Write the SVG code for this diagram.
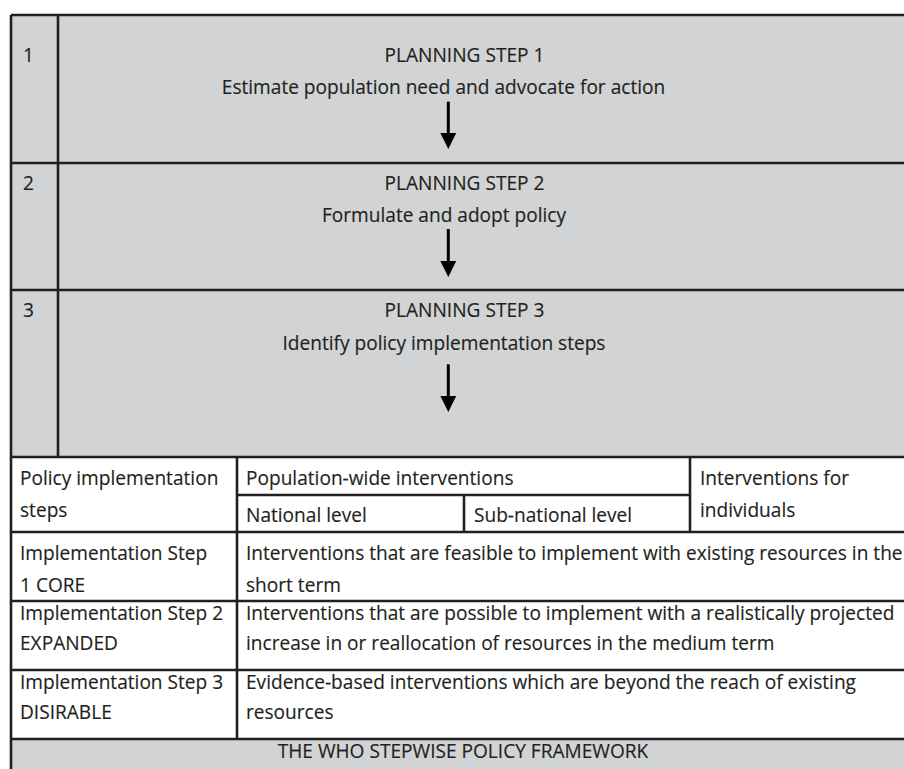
<svg xmlns="http://www.w3.org/2000/svg" width="904" height="769" viewBox="0 0 904 769">
<style>
.t{font-family:"Open Sans","Noto Sans",sans-serif;font-size:19.1px;fill:#231f20;stroke:#231f20;stroke-width:0.15}
.c{text-anchor:middle}
.g{fill:#d1d3d4}
.w{fill:#ffffff}
.ln{stroke:#231f20;stroke-width:2.6;fill:none}
.ar{stroke:#000;stroke-width:3;fill:none}
</style>
<defs>
<marker id="head" viewBox="0 0 16 16" refX="0" refY="8" markerWidth="16" markerHeight="16" markerUnits="userSpaceOnUse" orient="auto">
<path d="M0,0 L16,8 L0,16 z" fill="#000"/>
</marker>
</defs>
<rect x="0" y="0" width="904" height="769" fill="#ffffff"/>

<g id="planning-step-1">
<rect class="g" x="11" y="15" width="900" height="148"/>
<text class="t" x="23" y="62">1</text>
<text class="t c" x="464.5" y="62">PLANNING STEP 1</text>
<text class="t c" x="443.5" y="93.5">Estimate population need and advocate for action</text>
</g>
<g id="planning-step-2">
<rect class="g" x="11" y="163" width="900" height="127"/>
<text class="t" x="23" y="190">2</text>
<text class="t c" x="464.5" y="190">PLANNING STEP 2</text>
<text class="t c" x="444" y="222">Formulate and adopt policy</text>
</g>
<g id="planning-step-3">
<rect class="g" x="11" y="290" width="900" height="167"/>
<text class="t" x="23" y="317">3</text>
<text class="t c" x="464.5" y="317">PLANNING STEP 3</text>
<text class="t c" x="444" y="350">Identify policy implementation steps</text>
</g>

<g id="header">
<rect class="w" x="11" y="457" width="900" height="75"/>
<text class="t" x="20" y="485">Policy implementation</text>
<text class="t" x="20" y="516.7">steps</text>
<text class="t" x="246" y="485">Population-wide interventions</text>
<text class="t" x="246" y="521.7">National level</text>
<text class="t" x="474" y="521.7">Sub-national level</text>
<text class="t" x="700" y="485">Interventions for</text>
<text class="t" x="700" y="516.7">individuals</text>
</g>
<g id="impl-step-1">
<rect class="w" x="11" y="532" width="900" height="69"/>
<text class="t" x="20" y="559.5">Implementation Step</text>
<text class="t" x="20" y="591.7">1 CORE</text>
<text class="t" x="246" y="559.5">Interventions that are feasible to implement with existing resources in the</text>
<text class="t" x="246" y="591.7">short term</text>
</g>
<g id="impl-step-2">
<rect class="w" x="11" y="601" width="900" height="69"/>
<text class="t" x="20" y="619.5">Implementation Step 2</text>
<text class="t" x="20" y="650">EXPANDED</text>
<text class="t" x="246" y="619.5">Interventions that are possible to implement with a realistically projected</text>
<text class="t" x="246" y="650">increase in or reallocation of resources in the medium term</text>
</g>
<g id="impl-step-3">
<rect class="w" x="11" y="670" width="900" height="69"/>
<text class="t" x="20" y="688.5">Implementation Step 3</text>
<text class="t" x="20" y="719.3">DISIRABLE</text>
<text class="t" x="246" y="688.5">Evidence-based interventions which are beyond the reach of existing</text>
<text class="t" x="246" y="719.3">resources</text>
</g>
<g id="footer">
<rect class="g" x="11" y="739" width="900" height="40"/>
<text class="t c" x="463" y="758.3">THE WHO STEPWISE POLICY FRAMEWORK</text>
</g>

<g id="grid">
<path class="ln" d="M11,15 H910 M11,15 V775 M58,15 V457 M11,163 H910 M11,290 H910 M11,457 H910 M237,457 V739 M690,457 V532 M237,495 H690 M464,495 V532 M11,532 H910 M11,601 H910 M11,670 H910 M11,739 H910"/>
</g>

<g id="connectors">
<line class="ar" x1="448.3" y1="101.7" x2="448.3" y2="133" marker-end="url(#head)"/>
<line class="ar" x1="448.3" y1="229" x2="448.3" y2="261" marker-end="url(#head)"/>
<line class="ar" x1="448.3" y1="364.3" x2="448.3" y2="396" marker-end="url(#head)"/>
</g>
</svg>
